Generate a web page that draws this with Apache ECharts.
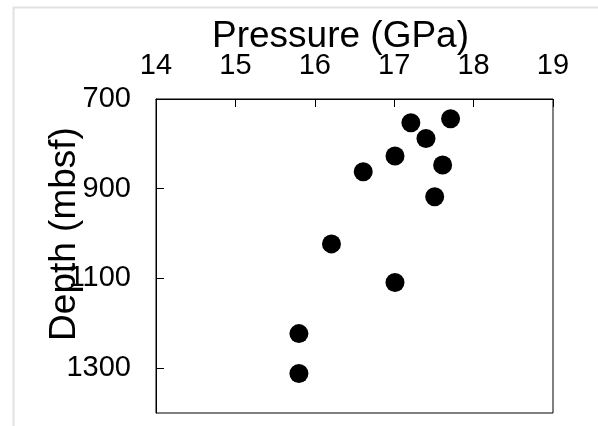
<!DOCTYPE html>
<html>
<head>
<meta charset="utf-8">
<script src="https://cdn.jsdelivr.net/npm/echarts@6/dist/echarts.min.js"></script>
<style>
  html, body { margin: 0; padding: 0; background: #ffffff; }
  #chart { width: 598px; height: 426px; }
</style>
</head>
<body>
<div id="chart"></div>
<script>
const pressure = [17.21, 17.71, 17.40, 17.01, 17.61, 16.61, 17.51, 16.21, 17.01, 15.80, 15.80];
const depth = [753, 744, 788, 827, 847, 862, 918, 1023, 1109, 1223, 1312];
const depthTicks = [700, 900, 1100, 1300];

const font = "'Liberation Sans', Arial, sans-serif";
const points = pressure.map((p, i) => [p, depth[i]]);

const chart = echarts.init(document.getElementById("chart"), null, { renderer: "canvas" });

chart.setOption({
  animation: false,
  backgroundColor: "#ffffff",
  graphic: [
    {
      type: "rect",
      left: 11,
      top: 5,
      shape: { width: 700, height: 500 },
      style: { fill: "none", stroke: "#e2e2e2", lineWidth: 2 },
      silent: true
    }
  ],
  grid: {
    left: 156,
    right: 45,
    top: 99,
    bottom: 13,
    show: true,
    borderColor: "#000000",
    borderWidth: 1,
    backgroundColor: "transparent"
  },
  xAxis: {
    type: "value",
    position: "top",
    min: 14,
    max: 19,
    interval: 1,
    name: "Pressure (GPa)",
    nameLocation: "middle",
    nameGap: 44,
    nameMoveOverlap: false,
    nameTextStyle: {
      color: "#000000",
      fontFamily: font,
      fontSize: 37,
      padding: [0, 28, 0, 0]
    },
    axisLine: { show: true, lineStyle: { color: "#000000", width: 1 } },
    axisTick: { show: true, inside: true, length: 8, lineStyle: { color: "#000000" } },
    axisLabel: {
      color: "#000000",
      fontFamily: font,
      fontSize: 29,
      margin: 19,
      formatter: (v) => String(v)
    },
    splitLine: { show: false }
  },
  yAxis: {
    type: "value",
    inverse: true,
    min: 700,
    max: 1400,
    name: "Depth (mbsf)",
    nameLocation: "middle",
    nameGap: 73,
    nameMoveOverlap: false,
    nameTextStyle: {
      color: "#000000",
      fontFamily: font,
      fontSize: 37,
      padding: [0, 0, 0, 44]
    },
    axisLine: { show: true, lineStyle: { color: "#000000", width: 1 } },
    axisTick: {
      show: true,
      inside: true,
      length: 8,
      customValues: depthTicks,
      lineStyle: { color: "#000000" }
    },
    axisLabel: {
      color: "#000000",
      fontFamily: font,
      fontSize: 29,
      margin: 25,
      customValues: depthTicks,
      formatter: (v) => String(v)
    },
    splitLine: { show: false }
  },
  series: [
    {
      type: "scatter",
      data: points,
      symbol: "circle",
      symbolSize: 19,
      itemStyle: { color: "#000000", opacity: 1 }
    }
  ]
});
</script>
</body>
</html>
